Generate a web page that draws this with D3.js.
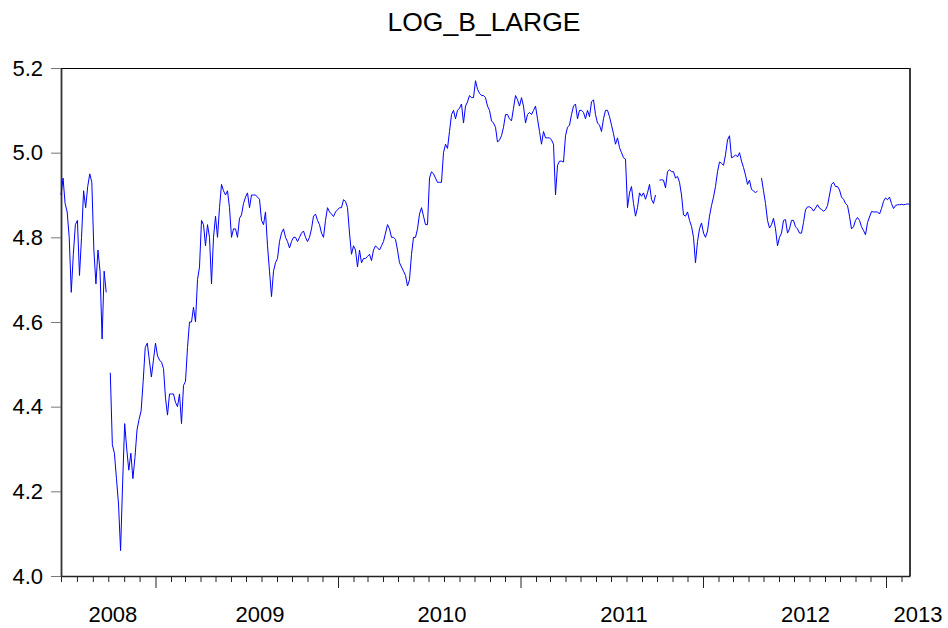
<!DOCTYPE html>
<html>
<head>
<title>LOG_B_LARGE</title>
<script src="https://d3js.org/d3.v7.min.js"></script>
<style>
body{margin:0;background:#fff;}
text{font-family:"Liberation Sans",Arial,sans-serif;fill:#000;}
</style>
</head>
<body>
<script>
// series, one value every 4 days from startDate (null = missing obs)
var title = "LOG_B_LARGE";
var startDate = "2008-07-01";
var stepDays = 4;
var values = [
4.90,4.94,4.88,4.86,4.80,4.67,4.76,4.83,4.84,4.71,
4.80,4.91,4.87,4.92,4.95,4.93,4.77,4.69,4.77,4.72,
4.56,4.72,4.67,null,4.48,4.31,4.29,4.23,4.17,4.06,
4.22,4.36,4.30,4.25,4.29,4.23,4.28,4.345,4.37,4.39,
4.46,4.54,4.55,4.51,4.47,4.51,
4.55,
4.52,4.51,4.505,4.49,4.42,4.38,4.43,4.43,4.43,4.41,
4.40,4.43,4.36,4.45,4.46,4.54,4.60,4.60,4.635,4.60,
4.70,4.73,4.84,4.83,4.78,4.83,4.80,4.69,4.80,4.85,
4.80,4.87,4.925,4.91,4.90,4.91,4.87,4.80,4.82,4.82,
4.80,4.845,4.853,4.88,4.895,4.905,4.87,4.90,4.90,4.90,
4.895,4.89,4.84,4.83,4.86,4.78,4.72,4.66,4.72,4.74,
4.75,4.79,4.81,4.82,4.80,4.79,4.775,4.79,4.80,4.80,
4.79,4.80,4.81,4.815,4.80,4.79,4.80,4.82,4.85,4.855,
4.84,4.83,4.81,4.80,4.84,4.87,4.86,4.855,4.849,4.86,
4.865,4.87,4.87,4.889,4.885,4.87,4.81,4.76,4.78,4.77,
4.73,4.77,4.74,4.75,4.75,4.755,4.76,4.745,4.77,4.78,
4.775,4.77,4.78,4.79,4.81,4.83,4.82,4.80,4.80,4.795,
4.77,4.74,4.73,4.72,4.71,4.685,4.70,4.76,4.80,4.80,
4.82,4.855,4.87,4.85,4.83,4.83,4.94,4.955,4.95,4.94,
4.93,4.93,4.93,5.00,5.02,5.01,5.05,5.09,5.10,5.08,
5.10,5.105,5.115,5.07,5.11,5.12,5.135,5.13,5.13,5.17,
5.15,5.14,5.135,5.135,5.13,5.11,5.10,5.075,5.07,5.06,
5.025,5.03,5.04,5.06,5.09,5.09,5.08,5.075,5.105,5.135,
5.125,5.11,5.13,5.11,5.07,5.09,5.095,5.09,5.10,5.11,
5.08,5.05,5.02,5.05,5.035,5.035,5.035,5.03,5.02,4.90,
4.97,4.98,4.98,4.978,5.04,5.06,5.065,5.09,5.11,5.115,
5.08,5.10,5.10,5.095,5.08,5.10,5.085,5.12,5.125,5.09,
5.07,5.065,5.05,5.08,5.10,5.10,5.085,5.065,5.045,5.02,
5.035,5.012,5.00,4.988,4.985,4.87,4.905,4.92,4.88,4.85,
4.87,4.905,4.897,4.905,4.89,4.905,4.925,4.89,4.88,4.90,
null,4.935,4.936,4.935,4.917,4.955,4.96,4.955,4.955,4.94,
4.944,4.93,4.90,4.853,4.85,4.86,4.84,4.826,4.80,4.74,
4.79,4.82,4.834,4.81,4.80,4.815,4.85,4.875,4.895,4.92,
4.955,4.978,4.975,4.97,4.995,5.03,5.04,4.988,4.99,4.995,
4.99,5.00,4.98,4.965,4.947,4.925,4.935,4.913,4.91,4.905,
4.91,null,4.94,4.91,4.88,4.84,4.822,4.83,4.845,4.82,
4.78,4.80,4.81,4.84,4.842,4.81,4.82,4.84,4.84,4.825,
4.82,4.81,4.81,4.835,4.865,4.872,4.872,4.869,4.862,4.869,
4.877,4.869,4.866,4.862,4.865,4.875,4.90,4.925,4.93,4.92,
4.92,4.912,4.895,4.89,4.88,4.875,4.85,4.82,4.825,4.84,
4.847,4.84,4.825,4.816,4.806,4.835,4.848,4.861,4.86,4.86,
4.86,4.855,4.868,4.885,4.893,4.889,4.895,4.88,4.868,4.875,
4.877,4.877,4.878,4.877,4.878,4.879,4.878
];
var yTicks = [4.0, 4.2, 4.4, 4.6, 4.8, 5.0, 5.2];
var yearLabels = ["2008", "2009", "2010", "2011", "2012", "2013"];
var yearLabelDates = ["2008-10-10", "2009-07-29", "2010-07-28", "2011-07-27", "2012-07-24", "2013-03-06"];
// axis is spaced by observations, so 2008 runs a bit wider than later years
var axisDates = ["2008-07-01", "2009-01-01", "2013-02-18"];

var W = 948, H = 628;
var plotL = 61, plotR = 910, plotT = 68, plotB = 576;
var parse = d3.utcParse("%Y-%m-%d");

var svg = d3.select("body").append("svg")
    .attr("width", W)
    .attr("height", H);

var x = d3.scaleUtc()
    .domain(axisDates.map(parse))
    .range([plotL, 155.5, plotR]);

var y = d3.scaleLinear()
    .domain([4.0, 5.2])
    .range([plotB, plotT]);

var t0 = parse(startDate);
var data = values.map(function(v, i){
  return {date: d3.utcDay.offset(t0, i * stepDays), v: v};
});

// title
svg.append("text")
    .attr("x", 484)
    .attr("y", 31)
    .attr("text-anchor", "middle")
    .style("font-size", "26.5px")
    .text(title);

// frame top + right
svg.append("line")
    .attr("x1", plotL).attr("x2", plotR)
    .attr("y1", plotT + 0.5).attr("y2", plotT + 0.5)
    .attr("stroke", "#000").attr("stroke-width", 1);
svg.append("line")
    .attr("x1", plotR).attr("x2", plotR)
    .attr("y1", plotT).attr("y2", plotB)
    .attr("stroke", "#3a3a3a").attr("stroke-width", 2);

// x axis: monthly minor ticks, longer ones at new year
var months = d3.utcMonth.range(parse("2008-07-01"), parse("2013-02-18"));
var minor = months.filter(function(d){ return d.getUTCMonth() !== 0; });
var major = months.filter(function(d){ return d.getUTCMonth() === 0; });

var gx = svg.append("g").attr("transform", "translate(0," + plotB + ")");
gx.call(d3.axisBottom(x).tickValues(minor).tickSize(6).tickSizeOuter(0).tickFormat(""));
gx.append("g").call(d3.axisBottom(x).tickValues(major).tickSize(12).tickSizeOuter(0).tickFormat(""))
  .select(".domain").remove();
gx.select(".domain").attr("stroke", "#222").attr("stroke-width", 1.6);
gx.selectAll(".tick line").attr("stroke", "#222");

gx.selectAll("text.year")
  .data(yearLabels)
  .enter().append("text")
    .attr("class", "year")
    .attr("x", function(d, i){ return x(parse(yearLabelDates[i])); })
    .attr("y", 46)
    .attr("text-anchor", "middle")
    .style("font-size", "22px")
    .text(function(d){ return d; });

// y axis
var gy = svg.append("g").attr("transform", "translate(" + plotL + ",0)");
gy.call(d3.axisLeft(y).tickValues(yTicks).tickSize(10).tickSizeOuter(0).tickFormat(d3.format(".1f")));
gy.select(".domain").attr("stroke", "#333").attr("stroke-width", 1.8);
gy.selectAll(".tick line").attr("stroke", "#777");
gy.selectAll(".tick text")
    .attr("x", -18)
    .style("font-size", "22px")
    .style("font-family", "'Liberation Sans', Arial, sans-serif")
    .attr("fill", "#000");

// series
var line = d3.line()
    .defined(function(d){ return d.v !== null; })
    .x(function(d){ return x(d.date); })
    .y(function(d){ return y(d.v); });

svg.append("path")
    .datum(data)
    .attr("fill", "none")
    .attr("stroke", "#0000ff")
    .attr("stroke-width", 1)
    .attr("d", line);
</script>
</body>
</html>
